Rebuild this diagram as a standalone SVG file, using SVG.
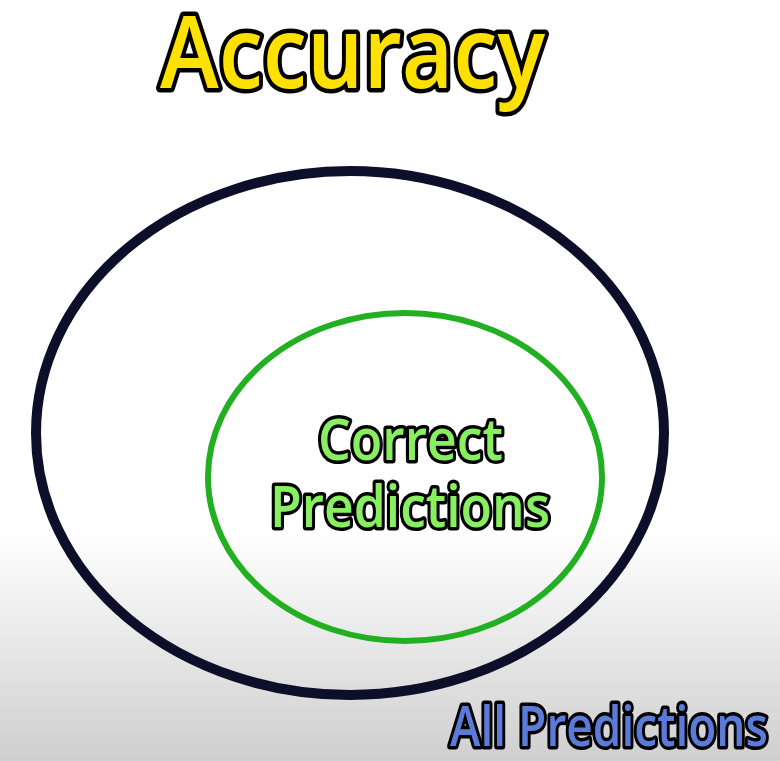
<svg xmlns="http://www.w3.org/2000/svg" width="780" height="761" viewBox="0 0 780 761">
  <defs>
    <linearGradient id="bg" x1="0" y1="0" x2="0" y2="1">
      <stop offset="0" stop-color="#ffffff"/>
      <stop offset="0.7" stop-color="#ffffff"/>
      <stop offset="1" stop-color="#cfcfcf"/>
    </linearGradient>
  </defs>
  <style>
    .lbl { font-family: "Open Sans", "Noto Sans", sans-serif; font-weight: 600; paint-order: stroke fill; stroke: #000; stroke-linejoin: round; }
    .title { fill: #ffe100; stroke-width: 9; font-size: 100px; }
    .inner { fill: #88f060; stroke-width: 7; font-size: 58px; }
    .outer { fill: #5b7bd8; stroke-width: 7; font-size: 56px; }
  </style>
  <rect width="780" height="761" fill="url(#bg)"/>

  <g id="title">
    <text class="lbl title" x="160" y="88" textLength="385" lengthAdjust="spacingAndGlyphs">Accuracy</text>
  </g>

  <g id="all-predictions">
    <ellipse cx="350" cy="433" rx="314" ry="262" fill="none" stroke="#0c0e2a" stroke-width="10"/>
    <text class="lbl outer" x="450" y="746" textLength="318" lengthAdjust="spacingAndGlyphs">All Predictions</text>
  </g>

  <g id="correct-predictions">
    <ellipse cx="405" cy="477" rx="197" ry="164" fill="none" stroke="#22b022" stroke-width="6"/>
    <text class="lbl inner" x="318" y="460" textLength="185" lengthAdjust="spacingAndGlyphs">Correct</text>
    <text class="lbl inner" x="270" y="527" textLength="280" lengthAdjust="spacingAndGlyphs">Predictions</text>
  </g>
</svg>
